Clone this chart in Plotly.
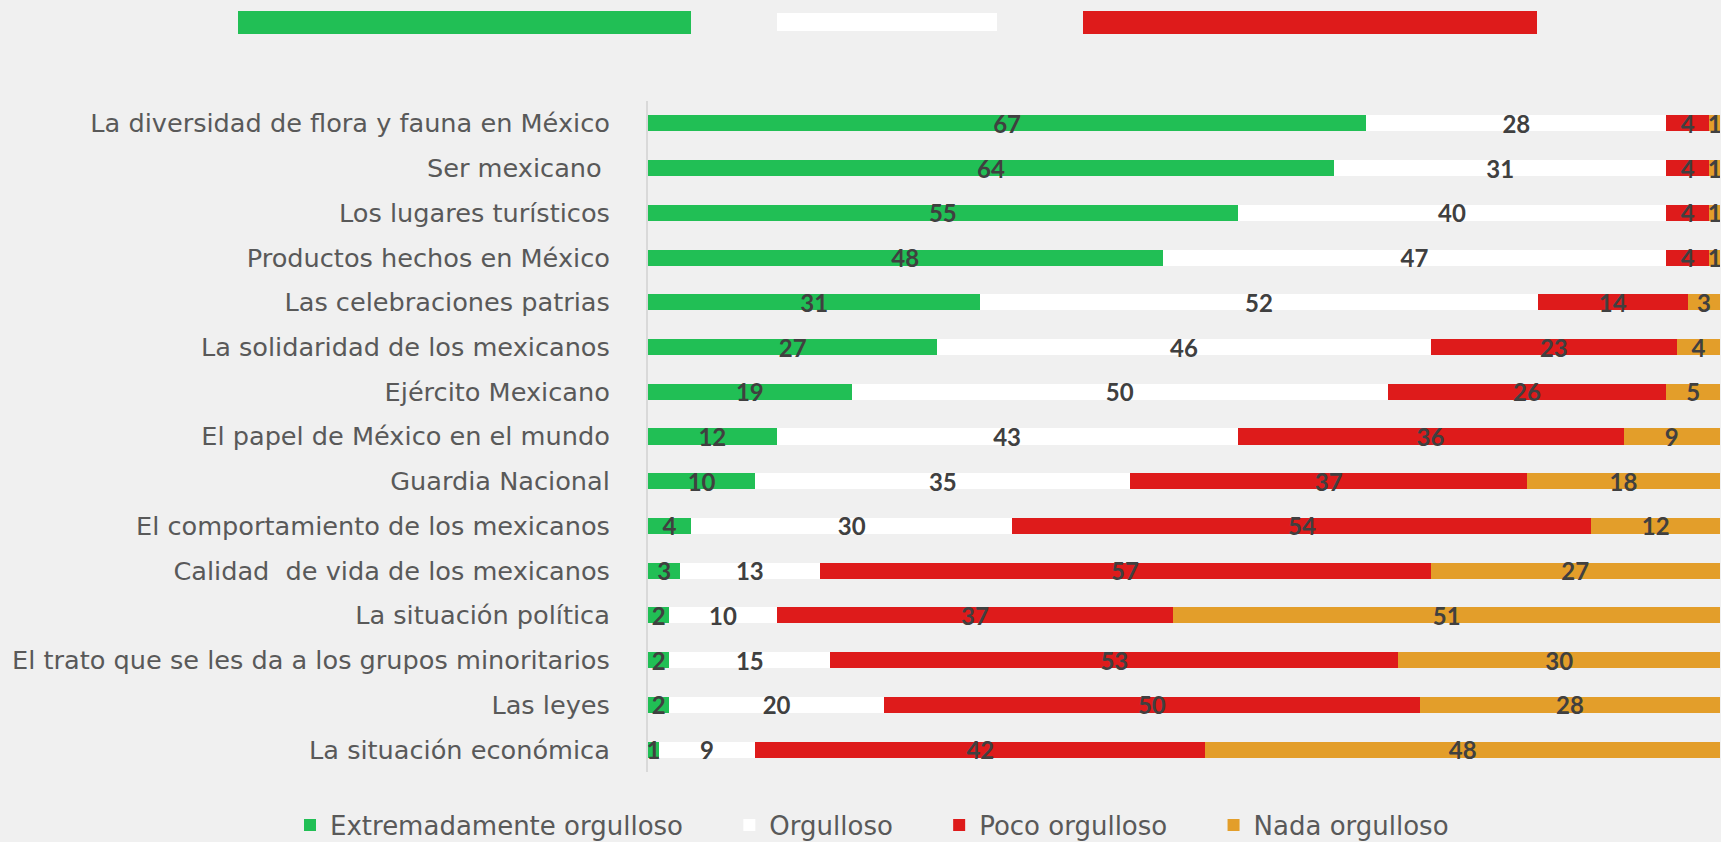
import plotly.graph_objects as go

# Orgullo por distintos aspectos de México (%)
categorias = [
    "La diversidad de flora y fauna en México",
    "Ser mexicano ",
    "Los lugares turísticos",
    "Productos hechos en México",
    "Las celebraciones patrias",
    "La solidaridad de los mexicanos",
    "Ejército Mexicano",
    "El papel de México en el mundo",
    "Guardia Nacional",
    "El comportamiento de los mexicanos",
    "Calidad  de vida de los mexicanos",
    "La situación política",
    "El trato que se les da a los grupos minoritarios",
    "Las leyes",
    "La situación económica",
]

extremadamente = [67, 64, 55, 48, 31, 27, 19, 12, 10, 4, 3, 2, 2, 2, 1]
orgulloso = [28, 31, 40, 47, 52, 46, 50, 43, 35, 30, 13, 10, 15, 20, 9]
poco = [4, 4, 4, 4, 14, 23, 26, 36, 37, 54, 57, 37, 53, 50, 42]
nada = [1, 1, 1, 1, 3, 4, 5, 9, 18, 12, 27, 51, 30, 28, 48]

series_nombres = ["Extremadamente orgulloso", "Orgulloso", "Poco orgulloso", "Nada orgulloso"]
series_valores = [extremadamente, orgulloso, poco, nada]
colores = ["#21BF55", "#FFFFFF", "#DE1B1B", "#E39E2A"]

fig = go.Figure()

# non-breaking spaces give the legend entries Excel-like gaps
pad = "\u00a0" * 5
for i, (name, vals, color) in enumerate(zip(series_nombres, series_valores, colores)):
    fig.add_trace(go.Bar(
        y=categorias,
        x=vals,
        name=name + (pad if i < 3 else ""),
        orientation='h',
        marker=dict(color=color, line=dict(width=0)),
        text=[str(v) for v in vals],
        textposition='inside',
        insidetextanchor='middle',
        textangle=0,
        constraintext='none',
        textfont=dict(family="Lato", size=24, color='#404040', weight='bold'),
        hoverinfo='skip',
    ))

# Cajas decorativas de la parte superior (en pixeles de la imagen)
PL, PR, PT, PB = 648, 1720, 101, 772
top_boxes = [
    (238, 691, 11, 34, '#21BF55'),
    (777, 997, 13, 31, '#FFFFFF'),
    (1083, 1537, 11, 34, '#DE1B1B'),
]
for x0, x1, y0, y1, c in top_boxes:
    fig.add_shape(
        type='rect', xref='paper', yref='paper',
        x0=(x0 - PL) / (PR - PL), x1=(x1 - PL) / (PR - PL),
        y0=1 + (PT - y1) / (PB - PT), y1=1 + (PT - y0) / (PB - PT),
        fillcolor=c, line=dict(width=0), layer='above',
    )

fig.update_layout(
    barmode='stack',
    bargap=0.64,
    width=1721, height=842,
    margin=dict(l=PL, r=1721 - PR, t=PT, b=842 - PB, autoexpand=False),
    plot_bgcolor='#F0F0F0',
    paper_bgcolor='#F0F0F0',
    font=dict(family="DejaVu Sans", size=26, color='#595959'),
    uniformtext=dict(minsize=24, mode='show'),
    xaxis=dict(
        range=[0, 100],
        showgrid=False, zeroline=False, showticklabels=False,
        fixedrange=True,
    ),
    yaxis=dict(
        autorange='reversed',
        showgrid=False, zeroline=False,
        showline=True, linecolor='#D9D9D9', linewidth=2,
        ticks='', ticklabelstandoff=31,
        tickfont=dict(family="DejaVu Sans", size=25.6, color='#595959'),
    ),
    legend=dict(
        orientation='h',
        traceorder='normal',
        x=(290 - PL) / (PR - PL), xanchor='left',
        y=(PB - 825) / (PB - PT), yanchor='middle',
        font=dict(family="DejaVu Sans", size=26, color='#595959'),
        bgcolor='rgba(0,0,0,0)',
    ),
    showlegend=True,
)

fig.write_html(
    "out.html",
    config={'displayModeBar': False},
    post_script="document.body.style.margin='0';document.body.style.overflow='hidden';",
)
